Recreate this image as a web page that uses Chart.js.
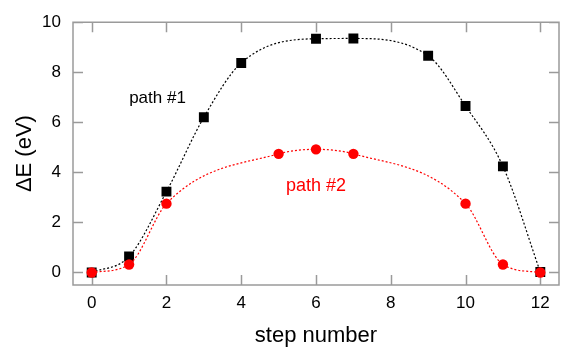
<!DOCTYPE html>
<html>
<head>
<meta charset="utf-8">
<script src="https://cdn.jsdelivr.net/npm/chart.js@4/dist/chart.umd.min.js"></script>
<style>
  html, body { margin: 0; padding: 0; background: #fff; }
  #wrap { width: 566px; height: 349px; }
</style>
</head>
<body>
<div id="wrap"><canvas id="chart" width="566" height="349"></canvas></div>
<script>
// ---------- data ----------
const steps1 = [0, 1, 2, 3, 4, 6, 7, 9, 10, 11, 12];
const energy1 = [0, 0.64, 3.23, 6.2, 8.37, 9.34, 9.35, 8.66, 6.65, 4.24, 0.02];
const steps2 = [0, 1, 2, 5, 6, 7, 10, 11, 12];
const energy2 = [0, 0.32, 2.75, 4.74, 4.92, 4.74, 2.75, 0.32, 0];
const xTicks = [0, 2, 4, 6, 8, 10, 12];
const yTicks = [0, 2, 4, 6, 8, 10];
const seriesNames = ["path #1", "path #2"];

const FONT = "'Liberation Sans', Arial, Helvetica, sans-serif";
const FRAME = "#9a9a9a";

function points(xs, ys) {
  return xs.map(function (x, i) { return { x: x, y: ys[i] }; });
}

// inward tick marks on all four sides, gnuplot style
const framePlugin = {
  id: "frame",
  beforeDatasetsDraw(chart) {
    const { ctx, chartArea: a, scales } = chart;
    const len = 10;
    ctx.save();
    ctx.strokeStyle = FRAME;
    ctx.lineWidth = 1.5;
    ctx.beginPath();
    ctx.rect(a.left, a.top, a.right - a.left, a.bottom - a.top);
    xTicks.forEach(function (v) {
      const px = Math.round(scales.x.getPixelForValue(v)) + 0.5;
      ctx.moveTo(px, a.bottom); ctx.lineTo(px, a.bottom - len);
      ctx.moveTo(px, a.top); ctx.lineTo(px, a.top + len);
    });
    yTicks.forEach(function (v) {
      const py = Math.round(scales.y.getPixelForValue(v)) + 0.5;
      ctx.moveTo(a.left, py); ctx.lineTo(a.left + len, py);
      ctx.moveTo(a.right, py); ctx.lineTo(a.right - len, py);
    });
    ctx.stroke();
    ctx.restore();
  }
};

// the in-plot series labels
const labelPlugin = {
  id: "pathLabels",
  afterDatasetsDraw(chart) {
    const { ctx, scales } = chart;
    const spots = [
      { text: seriesNames[0], x: 1.76, y: 6.95, color: "#000", size: 17 },
      { text: seriesNames[1], x: 6.0, y: 3.45, color: "#ff0000", size: 18 }
    ];
    ctx.save();
    ctx.textAlign = "center";
    ctx.textBaseline = "middle";
    spots.forEach(function (s) {
      ctx.fillStyle = s.color;
      ctx.font = s.size + "px " + FONT;
      ctx.fillText(s.text, scales.x.getPixelForValue(s.x), scales.y.getPixelForValue(s.y));
    });
    ctx.restore();
  }
};

new Chart(document.getElementById("chart"), {
  type: "scatter",
  data: {
    datasets: [
      {
        label: seriesNames[1],
        data: points(steps2, energy2),
        showLine: true,
        cubicInterpolationMode: "monotone",
        borderColor: "#ff0000",
        borderWidth: 1.2,
        borderDash: [2, 2],
        pointStyle: "circle",
        pointRadius: 5.2,
        pointBackgroundColor: "#ff0000",
        pointBorderWidth: 0
      },
      {
        label: seriesNames[0],
        data: points(steps1, energy1),
        showLine: true,
        cubicInterpolationMode: "monotone",
        borderColor: "#000",
        borderWidth: 1.2,
        borderDash: [2, 2],
        pointStyle: "rect",
        pointRadius: 7,
        pointBackgroundColor: "#000",
        pointBorderWidth: 0
      }
    ]
  },
  options: {
    responsive: false,
    animation: false,
    layout: { padding: { top: 14, right: 0, left: 0, bottom: 0 } },
    plugins: {
      legend: { display: false },
      tooltip: { enabled: false }
    },
    scales: {
      x: {
        type: "linear",
        min: -0.5,
        max: 12.5,
        afterBuildTicks: function (s) { s.ticks = xTicks.map(function (v) { return { value: v }; }); },
        afterFit: function (s) { s.height = 64; },
        grid: { display: false, drawTicks: false },
        border: { display: false },
        ticks: { color: "#000", padding: 8, maxRotation: 0, font: { family: FONT, size: 17 } },
        title: {
          display: true,
          text: "step number",
          color: "#000",
          padding: { top: 0, bottom: 0 },
          font: { family: FONT, size: 22 }
        }
      },
      y: {
        min: -0.5,
        max: 10,
        afterBuildTicks: function (s) { s.ticks = yTicks.map(function (v) { return { value: v }; }); },
        afterFit: function (s) { s.width = 73; },
        grid: { display: false, drawTicks: false },
        border: { display: false },
        ticks: { color: "#000", padding: 12, font: { family: FONT, size: 17 } },
        title: {
          display: true,
          text: "ΔE (eV)",
          color: "#000",
          padding: { top: 12, bottom: 0 },
          font: { family: FONT, size: 22 }
        }
      }
    }
  },
  plugins: [framePlugin, labelPlugin]
});
</script>
</body>
</html>
